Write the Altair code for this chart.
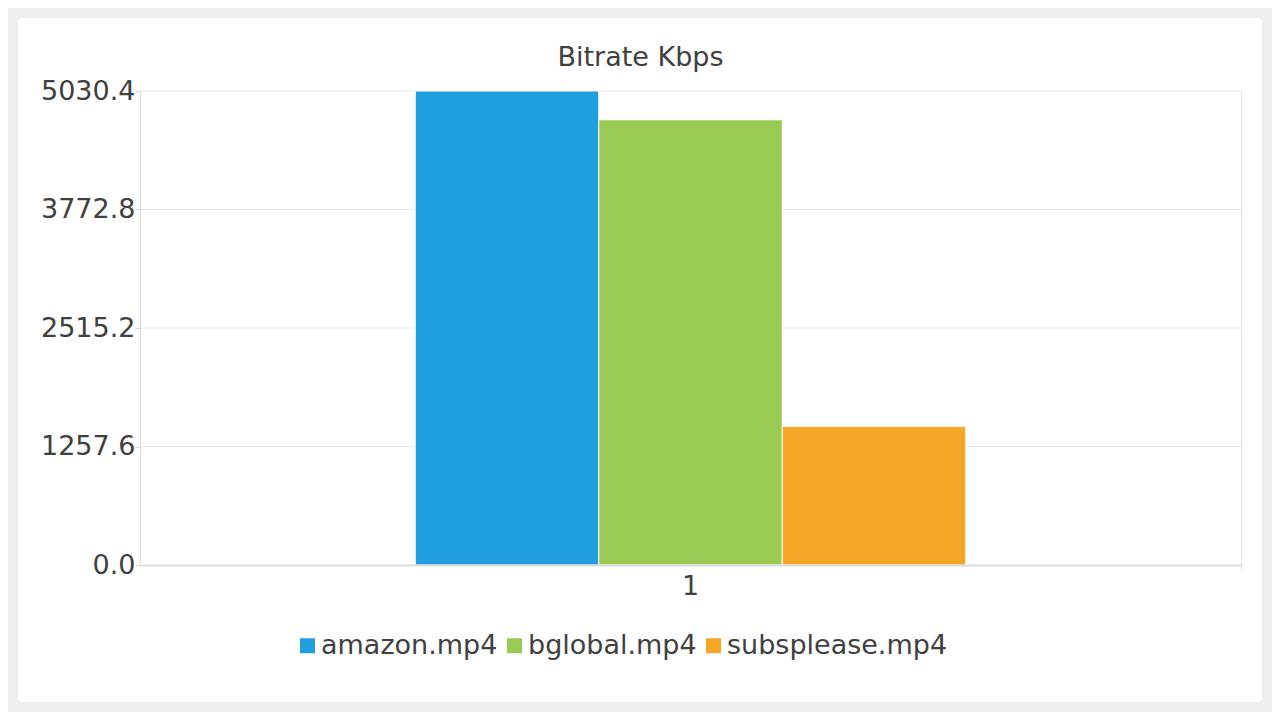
import altair as alt
import pandas as pd

files = ["amazon.mp4", "bglobal.mp4", "subsplease.mp4"]
bitrates = [5030.4, 4725.0, 1472.0]
groups = ["1", "1", "1"]
colors = ["#209FDF", "#99CA53", "#F5A627"]
y_ticks = [0.0, 1257.6, 2515.2, 3772.8, 5030.4]

df = pd.DataFrame({"group": groups, "file": files, "bitrate": bitrates})
grid_df = pd.DataFrame({"v": y_ticks})
one_df = pd.DataFrame({"k": [1]})

FONT = "DejaVu Sans"
TXT = "#404040"
W, H = 1101, 474
yscale = alt.Scale(domain=[0, 5030.4], nice=False, zero=True)

card = alt.Chart(one_df).mark_rect(fill="white", cornerRadius=5).encode(
    x=alt.value(-122), x2=alt.value(1122), y=alt.value(-73), y2=alt.value(611)
)

grid = alt.Chart(grid_df).mark_rule(color="#e8e8e8", strokeWidth=1).encode(
    y=alt.Y("v:Q", scale=yscale), x=alt.value(0), x2=alt.value(W)
)

frame_right = alt.Chart(one_df).mark_rule(color="#e2e2e2", strokeWidth=1).encode(
    x=alt.value(W + 0.5), y=alt.value(0), y2=alt.value(H + 5)
)

bars = alt.Chart(df).mark_bar(stroke="white", strokeWidth=1).encode(
    x=alt.X("group:N", title=None,
            scale=alt.Scale(paddingInner=0, paddingOuter=0.5),
            axis=alt.Axis(labelAngle=0, labelFontSize=27, labelColor=TXT, labelFont=FONT,
                          ticks=False, domainColor="#dcdcdc", domainWidth=2,
                          labelPadding=8, grid=False, zindex=1)),
    xOffset=alt.XOffset("file:N", sort=files),
    y=alt.Y("bitrate:Q", title=None, scale=yscale,
            axis=alt.Axis(values=y_ticks, format=".1f", labelFontSize=27, labelColor=TXT,
                          labelFont=FONT, tickSize=5, tickColor="#d9d9d9", labelPadding=0,
                          domainColor="#dcdcdc", grid=False, labelFlush=False,
                          zindex=1)),
    color=alt.Color("file:N", sort=files, scale=alt.Scale(domain=files, range=colors),
                    legend=alt.Legend(title=None, orient="none", direction="horizontal",
                                      legendX=154, legendY=541, symbolType="square",
                                      symbolSize=225, symbolStrokeWidth=0,
                                      labelFontSize=27, labelColor=TXT, labelFont=FONT,
                                      labelLimit=400, labelOffset=0, columnPadding=3)),
)

chart = alt.layer(card, grid, frame_right, bars).properties(
    width=W, height=H,
    title=alt.TitleParams("Bitrate Kbps", fontSize=27, font=FONT, color=TXT,
                          fontWeight="normal", anchor="middle", frame="group",
                          dx=-50, dy=76, offset=22),
    background="#eeeeee",
    padding={"left": 132, "top": 83, "right": 31, "bottom": 147},
    autosize=alt.AutoSizeParams(type="none"),
).configure_view(stroke=None)

chart.save("out.html", embed_options={"renderer": "svg", "actions": False})
